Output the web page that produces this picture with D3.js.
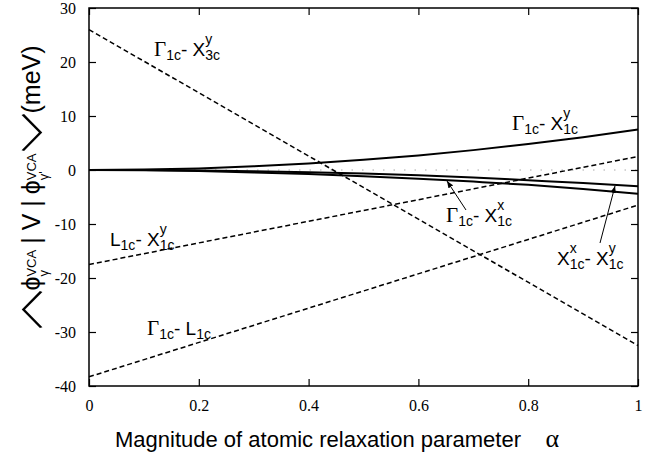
<!DOCTYPE html>
<html>
<head>
<meta charset="utf-8">
<script src="https://cdn.jsdelivr.net/npm/d3@7"></script>
<style>
body { margin: 0; background: #fff; }
text { font-family: "Liberation Sans", Arial, sans-serif; fill: #000; }
</style>
</head>
<body>
<div id="chart"></div>
<script>
// relaxation parameter and the matrix elements (meV)
var alpha = [0, 0.1, 0.2, 0.3, 0.4, 0.5, 0.6, 0.7, 0.8, 0.9, 1];
var gammaX1y = [0, 0.08, 0.3, 0.68, 1.2, 1.88, 2.7, 3.68, 4.8, 6.08, 7.5];
var gammaX1x = [0, -0.02, -0.1, -0.22, -0.4, -0.65, -0.98, -1.4, -1.9, -2.4, -3.0];
var x1xX1y = [0, -0.05, -0.2, -0.45, -0.75, -1.15, -1.6, -2.15, -2.75, -3.5, -4.4];

var alphaEnds = [0, 1];
var gammaX3y = [26, -32.5];
var lX1y = [-17.5, 2.5];
var gammaL1 = [-38.3, -6.5];

var xTicks = [0, 0.2, 0.4, 0.6, 0.8, 1];
var yTicks = [-40, -30, -20, -10, 0, 10, 20, 30];

var width = 664, height = 460;
var serif = "'Liberation Serif', 'Times New Roman', 'DejaVu Serif', serif";

var svg = d3.select("#chart").append("svg")
	.attr("width", width)
	.attr("height", height);

var x = d3.scaleLinear().domain([0, 1]).range([89, 638]);
var y = d3.scaleLinear().domain([-40, 30]).range([386, 8]);

svg.append("defs").append("marker")
	.attr("id", "head")
	.attr("viewBox", "0 0 10 10")
	.attr("refX", 10).attr("refY", 5)
	.attr("markerWidth", 7).attr("markerHeight", 7)
	.attr("markerUnits", "userSpaceOnUse")
	.attr("orient", "auto")
	.append("path")
	.attr("d", "M0,1 L10,5 L0,9 Z")
	.attr("fill", "#000");

// faint dotted zero line
svg.append("line")
	.attr("x1", x(0)).attr("x2", x(1))
	.attr("y1", y(0)).attr("y2", y(0))
	.attr("stroke", "#aaa")
	.attr("stroke-width", 1)
	.attr("stroke-dasharray", "1.5,9");

// axes, ticks pointing inward on all four sides
var fmt = function(d){ return String(d); };
svg.append("g")
	.attr("transform", "translate(0," + y(-40) + ")")
	.call(d3.axisBottom(x).tickValues(xTicks).tickFormat(fmt).tickSizeInner(-7).tickSizeOuter(0).tickPadding(14));
svg.append("g")
	.attr("transform", "translate(0," + y(30) + ")")
	.call(d3.axisTop(x).tickValues(xTicks).tickFormat("").tickSizeInner(-7).tickSizeOuter(0));
svg.append("g")
	.attr("transform", "translate(" + x(0) + ",0)")
	.call(d3.axisLeft(y).tickValues(yTicks).tickFormat(fmt).tickSizeInner(-7).tickSizeOuter(0).tickPadding(13));
svg.append("g")
	.attr("transform", "translate(" + x(1) + ",0)")
	.call(d3.axisRight(y).tickValues(yTicks).tickFormat("").tickSizeInner(-7).tickSizeOuter(0));

svg.selectAll(".domain").remove();
svg.selectAll(".tick line").attr("stroke", "#000").attr("stroke-width", 1.2);
svg.selectAll(".tick text")
	.style("font-family", serif)
	.style("font-size", "16px");

svg.append("rect")
	.attr("x", x(0)).attr("y", y(30))
	.attr("width", x(1) - x(0)).attr("height", y(-40) - y(30))
	.attr("fill", "none")
	.attr("stroke", "#000")
	.attr("stroke-width", 1.5);

// curves
var curve = d3.line()
	.x(function(d, i){ return x(alpha[i]); })
	.y(function(d){ return y(d); })
	.curve(d3.curveMonotoneX);

var straight = d3.line()
	.x(function(d, i){ return x(alphaEnds[i]); })
	.y(function(d){ return y(d); });

[gammaX1y, gammaX1x, x1xX1y].forEach(function(s){
	svg.append("path")
		.attr("d", curve(s))
		.attr("fill", "none")
		.attr("stroke", "#000")
		.attr("stroke-width", 2);
});

[gammaX3y, lX1y, gammaL1].forEach(function(s){
	svg.append("path")
		.attr("d", straight(s))
		.attr("fill", "none")
		.attr("stroke", "#000")
		.attr("stroke-width", 1.5)
		.attr("stroke-dasharray", "5,3");
});

// ink box of a glyph, used to centre the angle brackets
var ctx = document.createElement("canvas").getContext("2d");
function inkCentre(ch, font){
	ctx.font = font;
	var m = ctx.measureText(ch);
	return {
		x: (m.actualBoundingBoxRight - m.actualBoundingBoxLeft) / 2,
		y: (m.actualBoundingBoxDescent - m.actualBoundingBoxAscent) / 2
	};
}

// text with sub / superscripts, pieces laid out one after another
// brackets only reserve room here, they are drawn upright afterwards
var bracketSlots = [];
function richText(g, parts, o){
	var cx = 0;
	parts.forEach(function(p){
		if (p.bracket){
			bracketSlots.push({ch: p.bracket, at: cx + p.w / 2});
			cx += p.w;
		}
		else if (p.t !== undefined){
			var t = g.append("text")
				.attr("x", cx)
				.attr("y", 0)
				.style("font-size", (p.size || o.size) + "px")
				.text(p.t);
			if (p.font) t.style("font-family", p.font);
			cx += t.node().getComputedTextLength() + (p.gap || 0);
		}
		else{
			var w = 0;
			if (p.sup){
				var a = g.append("text")
					.attr("x", cx)
					.attr("y", o.up)
					.style("font-size", o.small + "px")
					.text(p.sup);
				w = Math.max(w, a.node().getComputedTextLength());
			}
			if (p.sub){
				var b = g.append("text")
					.attr("x", cx)
					.attr("y", o.down)
					.style("font-size", o.small + "px")
					.text(p.sub);
				w = Math.max(w, b.node().getComputedTextLength());
			}
			cx += w + (p.gap || 0);
		}
	});
	return cx;
}

var nb = "\u00a0";
var G = {t: "Γ", font: serif, size: 21};
var curveLabels = [
	{ x: 154, y: 56, parts: [G, {sub: "1c"}, {t: "-" + nb + "X"}, {sup: "y", sub: "3c"}] },
	{ x: 512, y: 130, parts: [G, {sub: "1c"}, {t: "-" + nb + "X"}, {sup: "y", sub: "1c"}] },
	{ x: 110, y: 246, parts: [{t: "L"}, {sub: "1c"}, {t: "-" + nb + "X"}, {sup: "y", sub: "1c"}] },
	{ x: 446, y: 222, parts: [G, {sub: "1c"}, {t: "-" + nb + "X"}, {sup: "x", sub: "1c"}] },
	{ x: 557, y: 265, parts: [{t: "X"}, {sup: "x", sub: "1c"}, {t: "-" + nb + "X"}, {sup: "y", sub: "1c"}] },
	{ x: 147, y: 335, parts: [G, {sub: "1c"}, {t: "-" + nb + "L"}, {sub: "1c"}] }
];

curveLabels.forEach(function(l){
	var g = svg.append("g").attr("transform", "translate(" + l.x + "," + l.y + ")");
	richText(g, l.parts, {size: 19, small: 14, up: -12, down: 4});
});

// pointer arrows
var arrows = [
	{ x1: 466, y1: 210, x2: 447, y2: 181 },
	{ x1: 600, y1: 243, x2: 615, y2: 186 }
];
arrows.forEach(function(a){
	svg.append("line")
		.attr("x1", a.x1).attr("y1", a.y1)
		.attr("x2", a.x2).attr("y2", a.y2)
		.attr("stroke", "#000")
		.attr("stroke-width", 1)
		.attr("marker-end", "url(#head)");
});

// x axis title
var xt = svg.append("text")
	.attr("x", 115)
	.attr("y", 447)
	.style("font-size", "22px")
	.text("Magnitude of atomic relaxation parameter" + nb + nb + nb + nb);
xt.append("tspan")
	.style("font-family", serif)
	.style("font-size", "26px")
	.text("α");

// y axis title
var yg = svg.append("g");
bracketSlots = [];
var ylen = richText(yg, [
	{bracket: "〈", w: 38},
	{t: "ϕ"}, {sup: "VCA", sub: "γ", gap: 6},
	{t: "|" + nb + "V" + nb + "|", gap: 6}, {t: "ϕ"}, {sup: "VCA", sub: "γ'", gap: 2},
	{bracket: "〉", w: 38},
	{t: "(meV)", gap: 0}
], {size: 25, small: 13, up: -4, down: 8});
var yBase = 187 + ylen / 2;
yg.attr("transform", "translate(40," + yBase + ") rotate(-90)");

// the angle brackets stand upright in the scan: "<" below, ">" above
var bFam = "'Noto Sans CJK JP'", bSize = 40;
bracketSlots.forEach(function(b){
	var c = inkCentre(b.ch, "300 " + bSize + "px " + bFam);
	svg.append("text")
		.attr("transform", "translate(32," + (yBase - b.at) + ") scale(1.5,1)")
		.attr("x", -c.x)
		.attr("y", -c.y)
		.style("font-family", bFam)
		.style("font-weight", 300)
		.style("font-size", bSize + "px")
		.text(b.ch);
});
</script>
</body>
</html>
